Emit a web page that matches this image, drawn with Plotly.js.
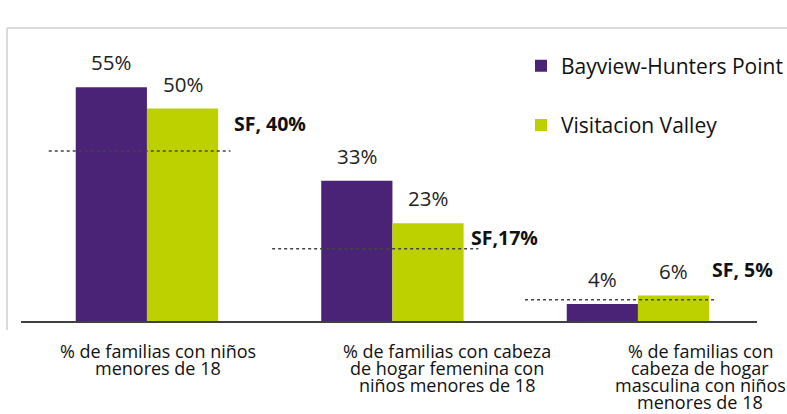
<!DOCTYPE html>
<html>
<head>
<meta charset="utf-8">
<script src="https://cdn.plot.ly/plotly-3.0.1.min.js"></script>
<style>html,body{margin:0;padding:0;background:#fff;}#chart{width:787px;height:414px;}</style>
</head>
<body>
<div id="chart"></div>
<script>
const categories = [
  '% de familias con niños<br>menores de 18',
  '% de familias con cabeza<br>de hogar femenina con<br>niños menores de 18',
  '% de familias con<br>cabeza de hogar<br>masculina con niños<br>menores de 18'
];
const seriesNames = ['Bayview-Hunters Point', 'Visitacion Valley'];
const bayview = [55, 33, 4];
const visitacion = [50, 23, 6];
const sfValues = [40, 17, 5];
const sfLabels = ['SF, 40%', 'SF,17%', 'SF, 5%'];

const PURPLE = '#4a2377';
const GREEN = '#bdd000';
const idx = categories.map((c, i) => i);
const bargap = 0.42;
const halfBar = (1 - bargap) / 4;

const traces = [
  {type: 'bar', x: idx, y: bayview, name: seriesNames[0], marker: {color: PURPLE}, legendgroup: 'a', hoverinfo: 'none'},
  {type: 'bar', x: idx, y: visitacion, name: seriesNames[1], marker: {color: GREEN}, legendgroup: 'b', hoverinfo: 'none'}
];

// SF reference dotted lines
const lineLeft = [-0.40, -0.49, -0.46];
const lineRight = [0.34, 0.35, 0.32];
const sfx = [], sfy = [];
idx.forEach(i => { sfx.push(i + lineLeft[i], i + lineRight[i], null); sfy.push(sfValues[i], sfValues[i], null); });
traces.push({type: 'scatter', mode: 'lines', x: sfx, y: sfy, showlegend: false, hoverinfo: 'none',
  line: {color: '#444444', width: 1.5, dash: 'dot'}});

const annotations = [];
const valFont = {family: 'Open Sans, sans-serif', size: 20.5, color: '#222222'};
idx.forEach(i => {
  annotations.push({x: i - halfBar, y: bayview[i], xref: 'x', yref: 'y', text: bayview[i] + '%', showarrow: false,
    yanchor: 'bottom', xanchor: 'center', yshift: 9, font: valFont});
  annotations.push({x: i + halfBar, y: visitacion[i], xref: 'x', yref: 'y', text: visitacion[i] + '%', showarrow: false,
    yanchor: 'bottom', xanchor: 'center', yshift: 9, font: valFont});
});
const sfLabX = [0.345, 0.31, 0.293];
const sfLabShift = [28, 11, 30];
idx.forEach(i => {
  annotations.push({x: i + sfLabX[i], y: sfValues[i], xref: 'x', yref: 'y', text: '<b>' + sfLabels[i] + '</b>',
    showarrow: false, xanchor: 'left', yanchor: 'middle', yshift: sfLabShift[i],
    font: {family: 'Open Sans, sans-serif', size: 19.5, color: '#111111'}});
});
const catShift = [0.045, 0.224, 0.253];
const catLineStep = 17;
idx.forEach(i => {
  categories[i].split('<br>').forEach((line, k) => {
    annotations.push({x: i + catShift[i], y: 0, xref: 'x', yref: 'paper', text: line, showarrow: false,
      xanchor: 'center', yanchor: 'middle', yshift: -30 - k * catLineStep, align: 'center',
      font: {family: 'Open Sans, sans-serif', size: 18, color: '#111111'}});
  });
});

const layout = {
  width: 787, height: 414,
  margin: {l: 21, r: 30, t: 66, b: 93, autoexpand: false},
  paper_bgcolor: '#ffffff', plot_bgcolor: '#ffffff',
  barmode: 'group', bargap: bargap, bargroupgap: 0,
  showlegend: true,
  legend: {x: (521 - 21) / 736, xanchor: 'left', y: 1.08, yanchor: 'top', traceorder: 'grouped', tracegroupgap: 29,
    font: {family: 'Open Sans, sans-serif', size: 21, color: '#111111'}, bgcolor: 'rgba(0,0,0,0)'},
  xaxis: {range: [-0.513, 2.485], showline: true, linecolor: '#404040', linewidth: 2, showgrid: false,
    zeroline: false, ticks: '', showticklabels: false, fixedrange: true},
  yaxis: {range: [0, 60], visible: false, showgrid: false, zeroline: false, fixedrange: true},
  annotations: annotations,
  shapes: [
    {type: 'line', xref: 'paper', yref: 'paper', x0: -0.019, x1: 1.1, y0: 1.149, y1: 1.149, line: {color: '#cfcfcf', width: 1.5}},
    {type: 'line', xref: 'paper', yref: 'paper', x0: -0.019, x1: -0.019, y0: 1.149, y1: -0.035, line: {color: '#cfcfcf', width: 1.5}}
  ]
};

Plotly.newPlot('chart', traces, layout, {displayModeBar: false, staticPlot: true});
</script>
</body>
</html>
